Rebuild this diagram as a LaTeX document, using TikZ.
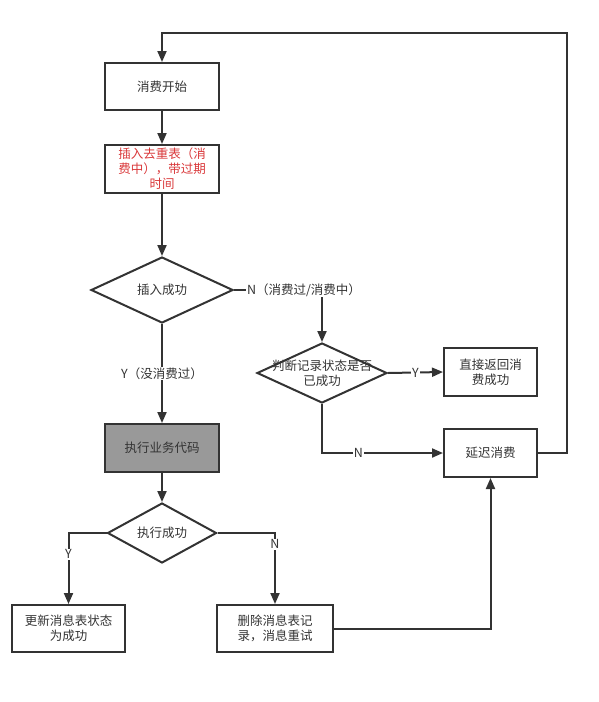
\documentclass[tikz,border=0pt]{standalone}
\usepackage{fontspec}
\setmainfont{Noto Sans CJK SC}
\usetikzlibrary{shapes.geometric,arrows.meta}
\definecolor{ln}{HTML}{333333}
\definecolor{txt}{HTML}{333333}
\definecolor{redt}{HTML}{D9383A}
\definecolor{grayf}{HTML}{999999}
\tikzset{
  box/.style={draw=ln,line width=2pt,minimum width=#1,inner sep=1pt,align=center,text=txt,font=\fontsize{12.5}{15}\selectfont},
  box/.default=114pt,
  dia/.style={draw=ln,line width=2pt,shape=diamond,inner sep=0pt},
  dtext/.style={align=center,text=txt,font=\fontsize{12.5}{15}\selectfont},
  conn/.style={draw=ln,line width=2pt,-{Triangle[length=11pt,width=9pt]}},
  lab/.style={fill=white,inner sep=1pt,text=txt,font=\fontsize{12.5}{15}\selectfont}
}
\begin{document}
\begin{tikzpicture}[x=1pt,y=-1pt]
\useasboundingbox (0,0) rectangle (598,702);
% boxes
\node[box=114pt,minimum height=47pt] (start) at (162,86.5) {消费开始};
\node[box=114pt,minimum height=48pt,text=redt] (insert) at (162,169) {插入去重表（消\\费中），带过期\\时间};
\node[dia,minimum width=142pt,minimum height=66pt] (ok1) at (162,290) {};
\node[dtext] (ok1t) at (ok1) {插入成功};
\node[dia,minimum width=130pt,minimum height=60pt] (judge) at (322,373) {};
\node[dtext] (judget) at (judge) {判断记录状态是否\\已成功};
\node[box=93pt,minimum height=48pt] (ret) at (490.5,372) {直接返回消\\费成功};
\node[box=93pt,minimum height=48pt] (delay) at (490.5,453) {延迟消费};
\node[box=114pt,minimum height=48pt,fill=grayf] (exec) at (162,448) {执行业务代码};
\node[dia,minimum width=109pt,minimum height=60pt] (ok2) at (162,533) {};
\node[dtext] (ok2t) at (ok2) {执行成功};
\node[box=113pt,minimum height=47pt] (upd) at (68.5,628.5) {更新消息表状态\\为成功};
\node[box=116pt,minimum height=47pt] (del) at (275,628.5) {删除消息表记\\录，消息重试};
% corner coordinates
\coordinate (c1) at (567,453);
\coordinate (c2) at (567,33);
\coordinate (c3) at (162,33);
% connectors
\draw[conn] (start) -- (insert);
\draw[conn] (insert) -- (ok1);
\draw[conn] (ok1.east) -| (judge.north) node[lab,pos=0.5,xshift=-18pt] {N（消费过/消费中）};
\draw[conn] (ok1.south) -- (exec.north) node[lab,pos=0.5] {Y（没消费过）};
\draw[conn] (judge.east) -- (ret.west) node[lab,pos=0.5] {Y};
\draw[conn] (judge.south) |- (delay.west) node[lab,pos=0.65] {N};
\draw[conn] (delay.east) -- (c1) -- (c2) -- (c3) -- (start.north);
\draw[conn] (exec) -- (ok2);
\draw[conn] (ok2.west) -| (upd.north) node[lab,pos=0.65] {Y};
\draw[conn] (ok2.east) -| (del.north) node[lab,pos=0.58] {N};
\draw[conn] (del.east) -| (delay.south);
\end{tikzpicture}
\end{document}
